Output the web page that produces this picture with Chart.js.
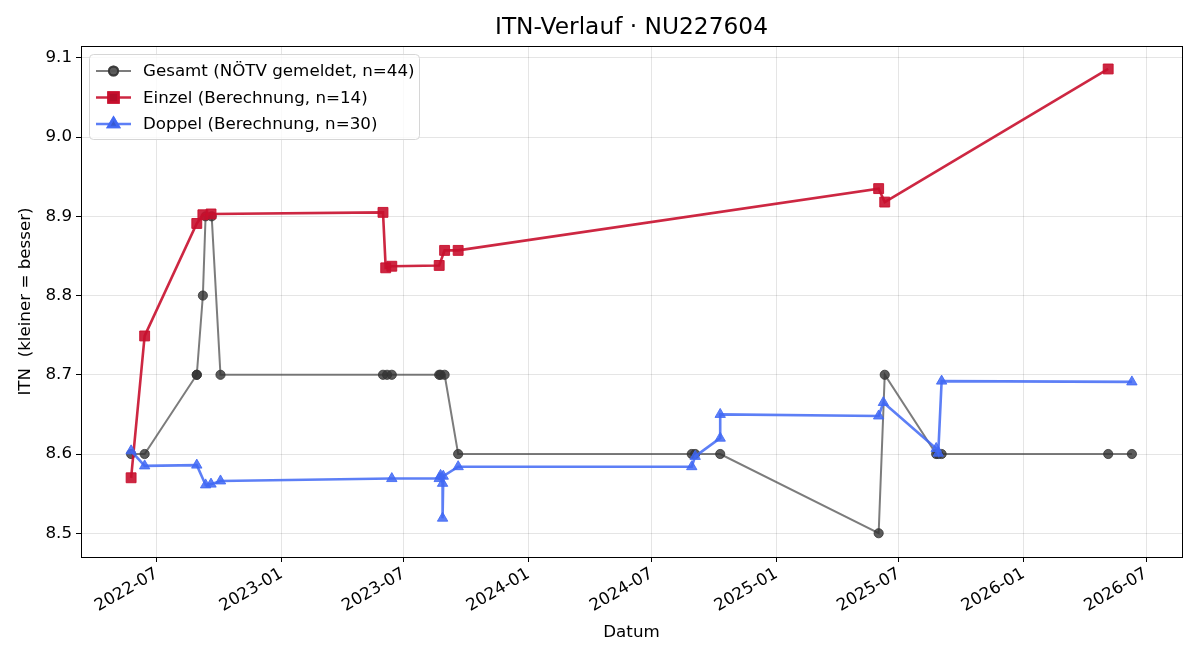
<!DOCTYPE html>
<html>
<head>
<meta charset="utf-8">
<script src="https://cdn.jsdelivr.net/npm/chart.js@4.4.2/dist/chart.umd.min.js"></script>
<style>
  html, body { margin: 0; padding: 0; background: #fff; }
  #wrap { width: 1200px; height: 660px; }
</style>
</head>
<body>
<div id="wrap"><canvas id="itn-chart" width="1200" height="660"></canvas></div>
<script>
// Daten
const gesamtDates = ['2022-05-24', '2022-06-13', '2022-08-29', '2022-08-29', '2022-09-07', '2022-09-11', '2022-09-20', '2022-10-03',
  '2023-05-31', '2023-06-06', '2023-06-13', '2023-08-22', '2023-08-24', '2023-08-30', '2023-09-19',
  '2024-08-29', '2024-09-03', '2024-10-10', '2025-06-01', '2025-06-10', '2025-08-25', '2025-08-28', '2025-09-02',
  '2026-05-06', '2026-06-10'];
const gesamtValues = [8.6, 8.6, 8.7, 8.7, 8.8, 8.9, 8.9, 8.7,
  8.7, 8.7, 8.7, 8.7, 8.7, 8.7, 8.6,
  8.6, 8.6, 8.6, 8.5, 8.7, 8.6, 8.6, 8.6,
  8.6, 8.6];

const einzelDates = ['2022-05-24', '2022-06-13', '2022-08-29', '2022-09-07', '2022-09-19', '2023-05-31', '2023-06-04',
  '2023-06-13', '2023-08-22', '2023-08-30', '2023-09-19', '2025-06-01', '2025-06-10', '2026-05-06'];
const einzelValues = [8.570, 8.749, 8.891, 8.902, 8.903, 8.905, 8.835,
  8.837, 8.838, 8.857, 8.857, 8.935, 8.918, 9.086];

const doppelDates = ['2022-05-24', '2022-06-13', '2022-08-29', '2022-09-11', '2022-09-19', '2022-10-03', '2023-06-13',
  '2023-08-22', '2023-08-24', '2023-08-27', '2023-08-27', '2023-08-28', '2023-09-19', '2024-08-29', '2024-09-03',
  '2024-10-10', '2024-10-10', '2025-06-01', '2025-06-08', '2025-08-25', '2025-08-28', '2025-09-02', '2026-06-10'];
const doppelValues = [8.604, 8.585, 8.586, 8.561, 8.562, 8.566, 8.569,
  8.569, 8.573, 8.563, 8.519, 8.572, 8.584, 8.584, 8.597,
  8.620, 8.650, 8.648, 8.665, 8.607, 8.601, 8.692, 8.691];

const xTickDates = ['2022-07-01', '2023-01-01', '2023-07-01', '2024-01-01', '2024-07-01', '2025-01-01', '2025-07-01', '2026-01-01', '2026-07-01'];
const yTicks = [8.5, 8.6, 8.7, 8.8, 8.9, 9.0, 9.1];

const chartTitle = 'ITN-Verlauf · NU227604';

const FONT = "'DejaVu Sans', sans-serif";
const FS = 16.7;

const toPoints = (dates, values) => dates.map((d, i) => ({ x: Date.parse(d), y: values[i] }));

// Titel über der Zeichenfläche zentriert (wie bei Matplotlib)
const titlePlugin = {
  id: 'axesTitle',
  afterDraw(chart) {
    const { left, right } = chart.chartArea;
    const ctx = chart.ctx;
    ctx.save();
    ctx.fillStyle = '#000';
    ctx.font = '23.3px ' + FONT;
    ctx.textAlign = 'center';
    ctx.textBaseline = 'middle';
    ctx.fillText(chartTitle, (left + right) / 2, 28);
    ctx.restore();
  }
};

// Legende im Matplotlib-Stil (Linie + Marker)
const legendPlugin = {
  id: 'mplLegend',
  afterDatasetsDraw(chart) {
    const ctx = chart.ctx;
    const x0 = 89, y0 = 54, w = 330, h = 85;
    ctx.save();
    ctx.beginPath();
    ctx.roundRect(x0 + 0.5, y0 + 0.5, w, h, 4);
    ctx.fillStyle = 'rgba(255,255,255,0.8)';
    ctx.fill();
    ctx.strokeStyle = '#d6d6d6';
    ctx.lineWidth = 1;
    ctx.stroke();
    chart.data.datasets.forEach((ds, i) => {
      const y = 71 + i * 26.5;
      ctx.beginPath();
      ctx.moveTo(96, y);
      ctx.lineTo(131, y);
      ctx.strokeStyle = ds.borderColor;
      ctx.lineWidth = ds.borderWidth;
      ctx.stroke();
      Chart.helpers.drawPoint(ctx, {
        pointStyle: ds.pointStyle, radius: ds.pointRadius, rotation: 0, borderWidth: 1
      }, 113.5, y);
      ctx.fillStyle = ds.pointBackgroundColor;
      ctx.strokeStyle = ds.pointBorderColor;
      ctx.fill();
      ctx.stroke();
      ctx.fillStyle = '#000';
      ctx.font = FS + 'px ' + FONT;
      ctx.textBaseline = 'middle';
      ctx.textAlign = 'left';
      ctx.fillText(ds.label, 143, y + 1);
    });
    ctx.restore();
  }
};

// Rahmen rund um die Zeichenfläche
const framePlugin = {
  id: 'frame',
  afterDraw(chart) {
    const { left, top, right, bottom } = chart.chartArea;
    const ctx = chart.ctx;
    ctx.save();
    ctx.strokeStyle = '#000';
    ctx.lineWidth = 1;
    ctx.strokeRect(Math.round(left) + 0.5, Math.round(top) + 0.5, Math.round(right - left), Math.round(bottom - top));
    ctx.restore();
  }
};

const ctx = document.getElementById('itn-chart');
new Chart(ctx, {
  type: 'line',
  data: {
    datasets: [
      {
        label: 'Gesamt (NÖTV gemeldet, n=44)',
        data: toPoints(gesamtDates, gesamtValues),
        order: 3,
        borderColor: 'rgba(68,68,68,0.7)',
        borderWidth: 2,
        pointStyle: 'circle',
        pointRadius: 4.6,
        pointBackgroundColor: 'rgba(51,51,51,0.8)',
        pointBorderColor: 'rgba(51,51,51,0.8)',
        pointBorderWidth: 1
      },
      {
        label: 'Einzel (Berechnung, n=14)',
        data: toPoints(einzelDates, einzelValues),
        order: 2,
        borderColor: 'rgba(200,16,46,0.9)',
        borderWidth: 2.6,
        pointStyle: 'rect',
        pointRadius: 7,
        pointBackgroundColor: 'rgba(200,16,46,0.9)',
        pointBorderColor: 'rgba(200,16,46,0.9)',
        pointBorderWidth: 1
      },
      {
        label: 'Doppel (Berechnung, n=30)',
        data: toPoints(doppelDates, doppelValues),
        order: 1,
        borderColor: 'rgba(65,105,245,0.85)',
        borderWidth: 2.6,
        pointStyle: 'triangle',
        pointRadius: 6,
        pointBackgroundColor: 'rgba(65,105,245,0.85)',
        pointBorderColor: 'rgba(65,105,245,0.85)',
        pointBorderWidth: 1
      }
    ]
  },
  options: {
    responsive: false,
    animation: false,
    layout: { padding: { left: 0, right: 18, top: 46, bottom: 0 } },
    elements: { line: { tension: 0 } },
    plugins: {
      legend: { display: false },
      tooltip: { enabled: false },
      title: { display: false }
    },
    scales: {
      x: {
        type: 'linear',
        min: Date.parse('2022-03-11'),
        max: Date.parse('2026-08-23'),
        afterBuildTicks: (scale) => { scale.ticks = xTickDates.map(d => ({ value: Date.parse(d) })); },
        afterFit: (scale) => { scale.height = 103; },
        grid: { color: 'rgba(0,0,0,0.1)', tickColor: '#000', tickLength: 5 },
        border: { color: '#000' },
        ticks: {
          color: '#000',
          font: { family: FONT, size: FS },
          maxRotation: 30,
          minRotation: 30,
          padding: 2,
          autoSkip: false,
          callback: (v) => new Date(v).toISOString().slice(0, 7)
        },
        title: {
          display: true,
          text: 'Datum',
          color: '#000',
          font: { family: FONT, size: FS },
          padding: { top: 0, bottom: 17 }
        }
      },
      y: {
        min: 8.47,
        max: 9.115,
        afterBuildTicks: (scale) => { scale.ticks = yTicks.map(v => ({ value: v })); },
        afterFit: (scale) => { scale.width = 81; },
        grid: { color: 'rgba(0,0,0,0.1)', tickColor: '#000', tickLength: 5 },
        border: { color: '#000' },
        ticks: {
          color: '#000',
          font: { family: FONT, size: FS },
          padding: 4,
          callback: (v) => v.toFixed(1)
        },
        title: {
          display: true,
          text: 'ITN  (kleiner = besser)',
          color: '#000',
          font: { family: FONT, size: FS },
          padding: { top: 16, bottom: 0 }
        }
      }
    }
  },
  plugins: [legendPlugin, framePlugin, titlePlugin]
});
</script>
</body>
</html>
